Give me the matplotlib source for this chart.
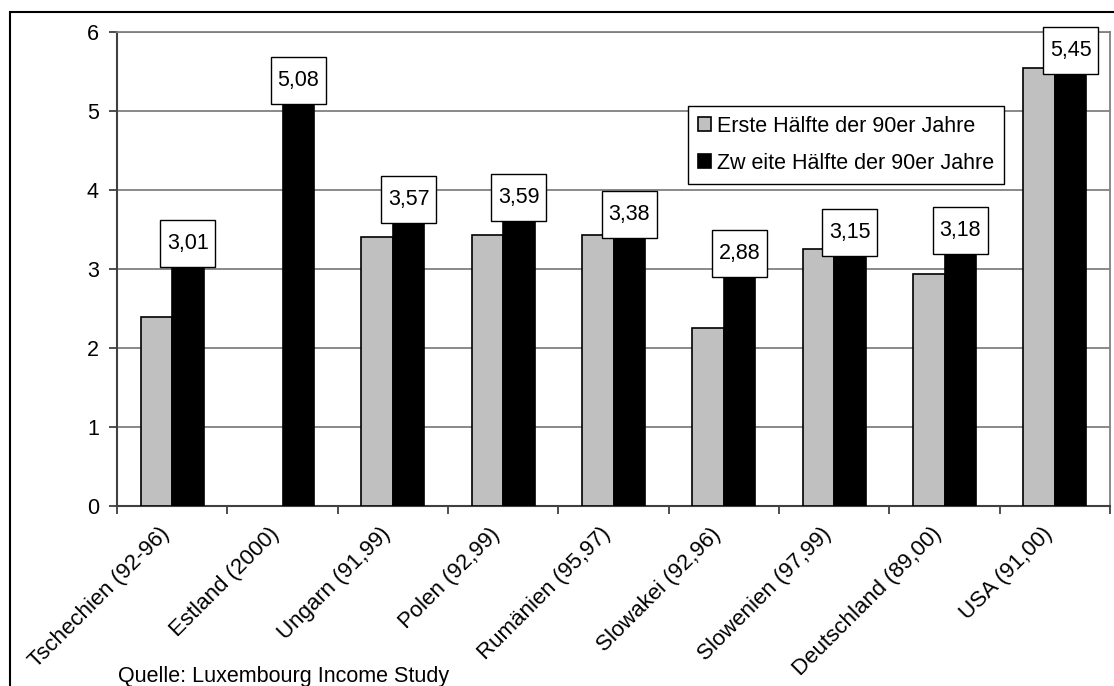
import matplotlib.pyplot as plt
import matplotlib.transforms as mtransforms
from matplotlib.patches import Rectangle
import numpy as np

plt.rcParams['font.family'] = ['Liberation Sans', 'DejaVu Sans']

# data
laender = ["Tschechien (92-96)", "Estland (2000)", "Ungarn (91,99)", "Polen (92,99)",
           "Rumänien (95,97)", "Slowakei (92,96)", "Slowenien (97,99)",
           "Deutschland (89,00)", "USA (91,00)"]
erste = [2.39, np.nan, 3.40, 3.43, 3.43, 2.25, 3.25, 2.94, 5.55]
zweite = [3.01, 5.08, 3.57, 3.59, 3.38, 2.88, 3.15, 3.18, 5.45]
zweite_labels = ["3,01", "5,08", "3,57", "3,59", "3,38", "2,88", "3,15", "3,18", "5,45"]
legend_labels = ["Erste Hälfte der 90er Jahre", "Zw eite Hälfte der 90er Jahre"]
quelle = "Quelle: Luxembourg Income Study"

W, H = 1114, 686
fig = plt.figure(figsize=(W / 100, H / 100), dpi=100)
ax = fig.add_axes([117 / W, 1 - 506 / H, (1110 - 117) / W, (506 - 32) / H])

x = np.arange(len(laender))
bw = 0.285
ax.bar(x - bw / 2, erste, bw, color="#c0c0c0", edgecolor="black", linewidth=1.2,
       label=legend_labels[0], zorder=3)
ax.bar(x + bw / 2, zweite, bw, color="black", edgecolor="black", linewidth=1.2,
       label=legend_labels[1], zorder=3)

ax.set_xlim(-0.5, len(laender) - 0.5)
ax.set_ylim(0, 6)
ax.set_yticks(range(7))
ax.yaxis.grid(True, color="#808080", linewidth=1.3, zorder=0)
ax.set_axisbelow(True)

for s in ["left", "bottom"]:
    ax.spines[s].set_color("#404040")
    ax.spines[s].set_linewidth(1.5)
for s in ["top", "right"]:
    ax.spines[s].set_color("#808080")
    ax.spines[s].set_linewidth(1.3)

ax.tick_params(axis="y", direction="out", length=6, width=1.3, color="#404040",
               labelsize=15.5, pad=7)
ax.set_xticks(x)
ax.set_xticklabels(laender, rotation=45, ha="right", rotation_mode="anchor", va="center")
ax.tick_params(axis="x", which="major", length=0, labelsize=16, pad=18)
ax.set_xticks(np.arange(-0.5, len(laender), 1), minor=True)
ax.tick_params(axis="x", which="minor", direction="out", length=6, width=1.3, color="#404040")
shift = mtransforms.ScaledTranslation(-6 / 100, 0, fig.dpi_scale_trans)
for lab in ax.get_xticklabels():
    lab.set_transform(lab.get_transform() + shift)

# value labels in boxes above the black bars
fig.canvas.draw()
bw_px, bh_px = 55, 47
for xi, v, txt in zip(x, zweite, zweite_labels):
    px, py = ax.transData.transform((xi + bw / 2, v))
    fx, fy = fig.transFigure.inverted().transform((px, py))
    rect = Rectangle((fx - bw_px / 2 / W, fy + 1 / H), bw_px / W, bh_px / H,
                     transform=fig.transFigure, facecolor="white", edgecolor="black",
                     linewidth=1, zorder=5)
    fig.patches.append(rect)
    fig.text(fx, fy + (1 + bh_px / 2) / H, txt, ha="center", va="center",
             fontsize=15.5, zorder=6)

leg = ax.legend(loc="upper left", bbox_to_anchor=((688 - 117) / 993, (506 - 106) / 474),
                fontsize=15.5, frameon=True, fancybox=False, framealpha=1,
                edgecolor="black", handlelength=0.6, handleheight=0.6,
                handletextpad=0.3, labelspacing=0.75, borderpad=0.45, borderaxespad=0)
leg.get_frame().set_linewidth(1)
leg.set_zorder(7)

fig.text(118 / W, 1 - 682 / H, quelle, fontsize=15.5, va="baseline")

# outer frame of the chart area
fig.patches.append(Rectangle((10 / W, -0.05), 1.1, 1 - 12 / H + 0.05, transform=fig.transFigure,
                             fill=False, edgecolor="black", linewidth=1.5))

fig.savefig("out.png", dpi=100)
